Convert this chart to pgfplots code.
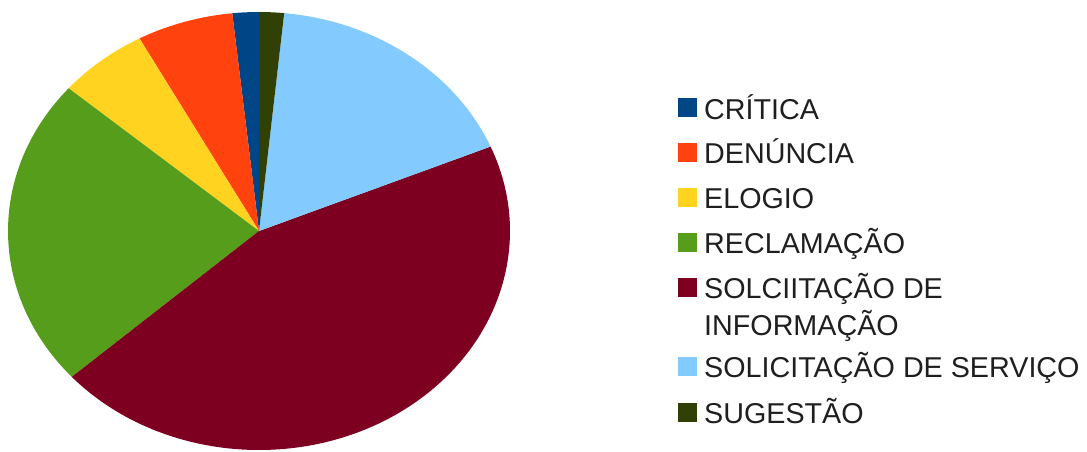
\documentclass[border=0pt]{standalone}
\usepackage{pgfplots}
\usepackage{pgfplotstable}
\pgfplotsset{compat=1.18}
\usepackage{fontspec}
\setmainfont{Liberation Sans}

\definecolor{cA}{HTML}{004586}
\definecolor{cB}{HTML}{FF420E}
\definecolor{cC}{HTML}{FFD320}
\definecolor{cD}{HTML}{579D1C}
\definecolor{cE}{HTML}{7E0021}
\definecolor{cF}{HTML}{83CAFF}
\definecolor{cG}{HTML}{314004}

% share in percent, counter-clockwise from the top
\pgfplotstableread{
value color
1.7   cA
6.2   cB
5.8   cC
22.9  cD
44.7  cE
17.1  cF
1.6   cG
}\piedata

\begin{document}
\begin{tikzpicture}[x=1pt,y=1pt]
\useasboundingbox (0,0) rectangle (1087,451);
\begin{axis}[at={(8pt,1pt)}, anchor=south west, scale only axis,
  width=502pt, height=438pt, xmin=-1, xmax=1, ymin=-1, ymax=1,
  hide axis, clip=false]
\pgfplotstablegetrowsof{\piedata}
\pgfmathtruncatemacro{\nrows}{\pgfplotsretval-1}
\xdef\cum{90}
\pgfplotsforeachungrouped \i in {0,...,\nrows}{
  \pgfplotstablegetelem{\i}{value}\of\piedata \let\v\pgfplotsretval
  \pgfplotstablegetelem{\i}{color}\of\piedata \let\c\pgfplotsretval
  \pgfmathsetmacro{\nxt}{\cum+\v*3.6}
  \edef\temp{\noexpand\fill[\c] (axis cs:0,0) -- (axis cs:{cos(\cum)},{sin(\cum)}) arc[start angle=\cum, end angle=\nxt, x radius=1, y radius=1] -- cycle;}
  \temp
  \xdef\cum{\nxt}
}
\end{axis}
% legend
\fontsize{28.7}{37}\selectfont
\foreach \base/\col/\txt in {119/cA/CRÍTICA, 163.3/cB/DENÚNCIA, 208.3/cC/ELOGIO, 253.3/cD/RECLAMAÇÃO, 298.3/cE/SOLCIITAÇÃO DE, 377.7/cF/SOLICITAÇÃO DE SERVIÇO, 423.3/cG/SUGESTÃO}{
  \fill[\col] (678,451-\base+1.7) rectangle (696.5,451-\base+20.7);
  \node[anchor=base west, inner sep=0pt, text=black!88] at (704,451-\base) {\txt};
}
\node[anchor=base west, inner sep=0pt, text=black!88] at (704,451-335) {INFORMAÇÃO};
\end{tikzpicture}
\end{document}
